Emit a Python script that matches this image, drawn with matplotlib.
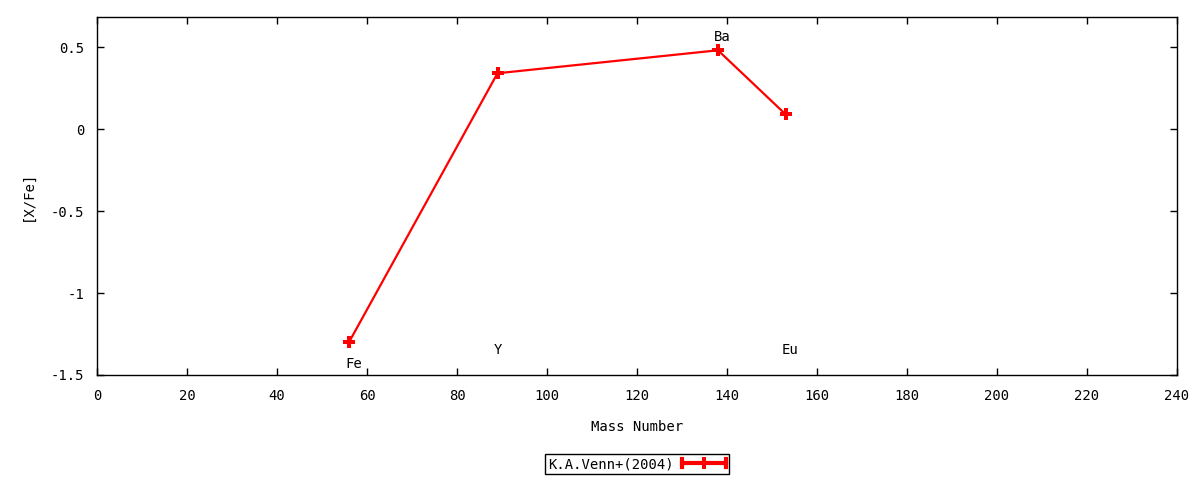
import numpy as np
import matplotlib
matplotlib.use('Agg')
import matplotlib.pyplot as plt
from matplotlib.lines import Line2D
from matplotlib.legend_handler import HandlerBase

# data
elements = ['Fe', 'Y', 'Ba', 'Eu']
mass = [56, 89, 138, 153]
xfe = [-1.30, 0.34, 0.48, 0.09]
label_x = [57, 89, 139, 154]
label_y = [-1.43, -1.35, 0.56, -1.35]
xticks = list(range(0, 241, 20))
yticks = [-1.5, -1, -0.5, 0, 0.5]
ytick_labels = ['-1.5', '-1', '-0.5', '0', '0.5']

plt.rcParams['font.family'] = 'DejaVu Sans Mono'
plt.rcParams['font.size'] = 10


class CapLine(HandlerBase):
	# gnuplot-like errorlines key: bar with end caps and a point in the middle
	def create_artists(self, legend, orig, xd, yd, w, h, fontsize, trans):
		x0, x1 = -xd, -xd + w
		y = -yd + h / 2.
		arts = [Line2D([x0, x1], [y, y], color='red', lw=3),
				Line2D([x0, x0], [y - 3, y + 3], color='red', lw=3),
				Line2D([x1, x1], [y - 3, y + 3], color='red', lw=3),
				Line2D([(x0 + x1) / 2.], [y], color='red', marker='P',
					   ms=8, mew=0, ls='none')]
		for a in arts:
			a.set_transform(trans)
		return arts


fig = plt.figure(figsize=(12, 4.8), dpi=100)
ax = fig.add_axes([97/1200., 105/480., 1080/1200., 358/480.])

ln, = ax.plot(mass, xfe, '-', color='red', lw=1.6, marker='P', ms=8, mew=0,
			  label='K.A.Venn+(2004)')
for el, lx, ly in zip(elements, label_x, label_y):
	ax.text(lx, ly, el, ha='center', va='center')

ax.set_xlim(0, 240)
ax.set_ylim(-1.5, 0.683)
ax.set_xticks(xticks)
ax.set_yticks(yticks)
ax.set_yticklabels(ytick_labels)
ax.tick_params(direction='in', length=5, width=1, top=True, right=True)
ax.tick_params(axis='x', pad=10)
ax.tick_params(axis='y', pad=9)
for s in ax.spines.values():
	s.set_linewidth(1)
ax.set_xlabel('Mass Number', labelpad=12)
ax.set_ylabel('[X/Fe]', labelpad=12)

ax.legend([ln], ['K.A.Venn+(2004)'], handler_map={ln: CapLine()},
		  loc='center', bbox_to_anchor=(0.5, -0.249), markerfirst=False,
		  fancybox=False, edgecolor='black', framealpha=1, handlelength=3.2,
		  borderpad=0.2, handletextpad=0.6, borderaxespad=0)

plt.savefig('out.png', dpi=100)
